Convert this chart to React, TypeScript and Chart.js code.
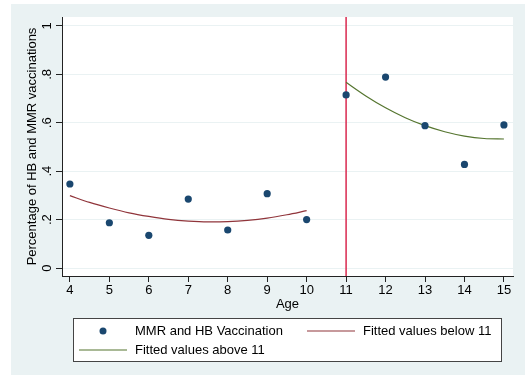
import { useEffect, useRef } from "react";
import { Chart, registerables } from "chart.js";

Chart.register(...registerables);

const FONT = "'Liberation Sans', Arial, Helvetica, sans-serif";

const ages = [4, 5, 6, 7, 8, 9, 10, 11, 12, 13, 14, 15];
const vaccination = [0.347, 0.187, 0.135, 0.285, 0.157, 0.307, 0.2, 0.715, 0.789, 0.588, 0.428, 0.591];

const fitBelowAges = [4, 4.5, 5, 5.5, 6, 6.5, 7, 7.5, 8, 8.5, 9, 9.5, 10];
const fitBelowValues = [0.299, 0.271, 0.248, 0.228, 0.213, 0.201, 0.194, 0.191, 0.192, 0.197, 0.206, 0.22, 0.237];

const fitAboveAges = [11, 11.5, 12, 12.5, 13, 13.5, 14, 14.5, 15];
const fitAboveValues = [0.767, 0.711, 0.662, 0.621, 0.588, 0.563, 0.545, 0.535, 0.533];

const cutoffAge = 11;

const xTickValues = [4, 5, 6, 7, 8, 9, 10, 11, 12, 13, 14, 15];
const xTickLabels = ["4", "5", "6", "7", "8", "9", "10", "11", "12", "13", "14", "15"];
const yTickValues = [0, 0.2, 0.4, 0.6, 0.8, 1];
const yTickLabels = ["0", ".2", ".4", ".6", ".8", "1"];

const xMin = 3.8;
const xMax = 15.23;
const yMin = -0.033;
const yMax = 1.037;

const legendLabels = ["MMR and HB Vaccination", "Fitted values below 11", "Fitted values above 11"];
const xTitle = "Age";
const yTitle = "Percentage of HB and MMR vaccinations";

const BG = "#eaf2f3";
const NAVY = "#1a476f";
const MAROON = "#90353b";
const GREEN = "#55752f";
const XLINE = "#d9294f";
const AXIS = "#222222";

const stataPlugin = {
  id: "stata",
  beforeDraw(chart: any) {
    const ctx = chart.ctx;
    const a = chart.chartArea;
    ctx.save();
    ctx.fillStyle = "#ffffff";
    ctx.fillRect(0, 0, chart.width, chart.height);
    ctx.fillStyle = BG;
    ctx.fillRect(11, 4, 514, 371);
    ctx.fillStyle = "#ffffff";
    ctx.fillRect(a.left, a.top, a.right - a.left, a.bottom - a.top);
    ctx.restore();
  },
  afterDraw(chart: any) {
    const ctx = chart.ctx;
    const a = chart.chartArea;
    const ys = chart.scales.y;
    ctx.save();
    ctx.fillStyle = "#000";
    ctx.font = `13px ${FONT}`;
    ctx.textAlign = "center";
    ctx.textBaseline = "middle";
    // rotated y tick labels
    yTickValues.forEach((v, i) => {
      const py = ys.getPixelForValue(v);
      ctx.save();
      ctx.translate(47, py);
      ctx.rotate(-Math.PI / 2);
      ctx.fillText(yTickLabels[i], 0, 0);
      ctx.restore();
    });
    // y title
    ctx.save();
    ctx.translate(32, (a.top + a.bottom) / 2);
    ctx.rotate(-Math.PI / 2);
    ctx.fillText(yTitle, 0, 0);
    ctx.restore();
    // x title
    ctx.fillText(xTitle, (a.left + a.right) / 2, 304);

    // legend
    ctx.fillStyle = "#ffffff";
    ctx.fillRect(73.5, 318.5, 428, 43);
    ctx.strokeStyle = "#444";
    ctx.lineWidth = 1;
    ctx.strokeRect(73.5, 318.5, 428, 43);
    ctx.textAlign = "left";
    ctx.fillStyle = "#000";
    const r1 = 331;
    const r2 = 350;
    ctx.beginPath();
    ctx.fillStyle = NAVY;
    ctx.arc(103, r1, 3.5, 0, Math.PI * 2);
    ctx.fill();
    ctx.fillStyle = "#000";
    ctx.fillText(legendLabels[0], 135, r1);
    ctx.strokeStyle = MAROON;
    ctx.lineWidth = 1.2;
    ctx.beginPath();
    ctx.moveTo(307, r1);
    ctx.lineTo(355, r1);
    ctx.stroke();
    ctx.fillText(legendLabels[1], 363, r1);
    ctx.strokeStyle = GREEN;
    ctx.beginPath();
    ctx.moveTo(79, r2);
    ctx.lineTo(127, r2);
    ctx.stroke();
    ctx.fillText(legendLabels[2], 135, r2);
    ctx.restore();
  },
};

export default function App() {
  const ref = useRef<HTMLCanvasElement | null>(null);
  useEffect(() => {
    if (!ref.current) return;
    const chart = new Chart(ref.current, {
      type: "scatter",
      data: {
        datasets: [
          {
            label: legendLabels[0],
            data: ages.map((x, i) => ({ x, y: vaccination[i] })),
            backgroundColor: NAVY,
            borderColor: NAVY,
            borderWidth: 0,
            pointRadius: 3.6,
          },
          {
            label: legendLabels[1],
            data: fitBelowAges.map((x, i) => ({ x, y: fitBelowValues[i] })),
            showLine: true,
            borderColor: MAROON,
            borderWidth: 1.2,
            pointRadius: 0,
            tension: 0.4,
            cubicInterpolationMode: "monotone",
          },
          {
            label: legendLabels[2],
            data: fitAboveAges.map((x, i) => ({ x, y: fitAboveValues[i] })),
            showLine: true,
            borderColor: GREEN,
            borderWidth: 1.2,
            pointRadius: 0,
            tension: 0.4,
            cubicInterpolationMode: "monotone",
          },
          {
            label: "cutoff",
            data: [
              { x: cutoffAge, y: yMin },
              { x: cutoffAge, y: yMax },
            ],
            showLine: true,
            borderColor: XLINE,
            borderWidth: 1.5,
            pointRadius: 0,
          },
        ],
      } as any,
      options: {
        animation: false,
        responsive: false,
        maintainAspectRatio: false,
        layout: { padding: { left: 11, top: 17, right: 14, bottom: 0 } },
        plugins: { legend: { display: false }, tooltip: { enabled: false } },
        scales: {
          x: {
            type: "linear",
            min: xMin,
            max: xMax,
            afterBuildTicks: (s: any) => {
              s.ticks = xTickValues.map((v) => ({ value: v }));
            },
            afterFit: (s: any) => {
              s.height = 100;
            },
            grid: {
              display: true,
              drawOnChartArea: false,
              drawTicks: true,
              tickLength: 6,
              tickColor: AXIS,
              tickWidth: 1,
            },
            border: { display: true, color: AXIS, width: 1 },
            ticks: {
              color: "#000",
              font: { family: FONT, size: 13 },
              padding: 1,
              maxRotation: 0,
              minRotation: 0,
              autoSkip: false,
              callback: (v: any) => {
                const i = xTickValues.indexOf(Number(v));
                return i >= 0 ? xTickLabels[i] : "";
              },
            },
          },
          y: {
            type: "linear",
            min: yMin,
            max: yMax,
            afterBuildTicks: (s: any) => {
              s.ticks = yTickValues.map((v) => ({ value: v }));
            },
            afterFit: (s: any) => {
              s.width = 51;
            },
            grid: {
              display: true,
              color: BG,
              lineWidth: 1,
              drawTicks: true,
              tickLength: 6,
              tickColor: AXIS,
              tickWidth: 1,
            },
            border: { display: true, color: AXIS, width: 1 },
            ticks: { display: false },
          },
        },
      } as any,
      plugins: [stataPlugin],
    });
    return () => chart.destroy();
  }, []);
  return (
    <div style={{ position: "fixed", left: 0, top: 0, width: 527, height: 376 }}>
      <canvas ref={ref} width={527} height={376} style={{ display: "block" }} />
    </div>
  );
}
